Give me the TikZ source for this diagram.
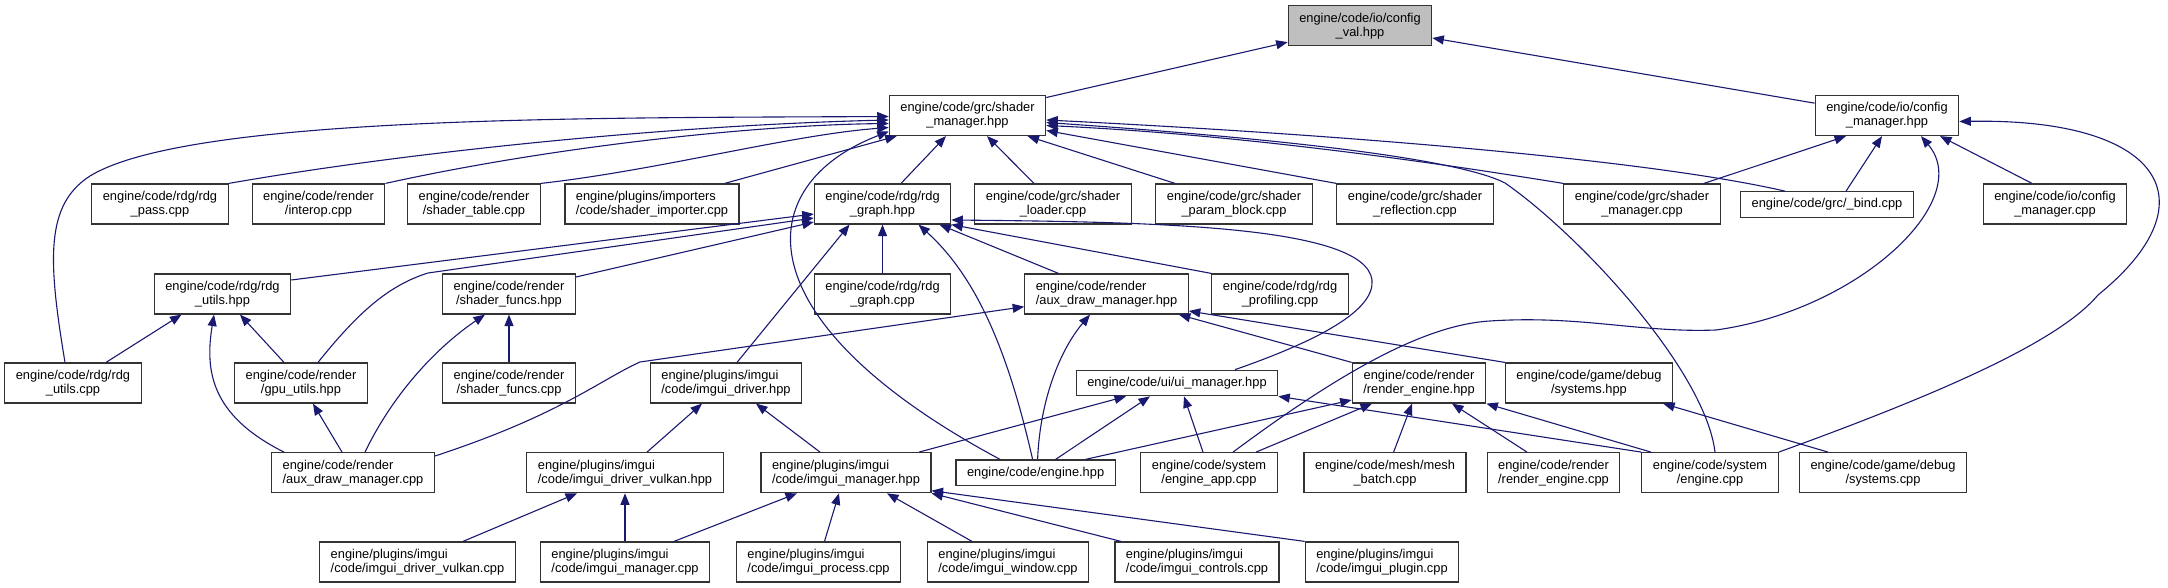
\documentclass[tikz,border=0pt]{standalone}
\usepackage{fontspec}
\setmainfont{Liberation Sans}
\usetikzlibrary{arrows.meta}
\definecolor{edgeblue}{HTML}{191970}
\begin{document}
\begin{tikzpicture}[x=1pt,y=-1pt,>={Triangle[length=11.5pt,width=9pt]},
  file/.style={draw=black!80,line width=1.2pt,fill=white,minimum height=40pt,
    inner xsep=11pt,inner ysep=0pt,align=center,font=\fontsize{12.85}{14}\selectfont},
  lfile/.style={file,align=left},
  flat/.style={file,minimum height=25.5pt},
  dep/.style={->,edgeblue,line width=1.1pt}]
\useasboundingbox (0,0) rectangle (2168,588);

\node[file,fill=black!25] (cval) at (1360,25.7) {engine/code/io/config\\\_val.hpp};

\node[file] (smh) at (967.5,115.5) {engine/code/grc/shader\\\_manager.hpp};
\node[file] (cmh) at (1887,115.5) {engine/code/io/config\\\_manager.hpp};

\node[file] (rpass) at (160,204) {engine/code/rdg/rdg\\\_pass.cpp};
\node[file] (interop) at (318.5,204) {engine/code/render\\/interop.cpp};
\node[file] (stable) at (474,204) {engine/code/render\\/shader\_table.cpp};
\node[lfile] (simp) at (652,204) {engine/plugins/importers\\/code/shader\_importer.cpp};
\node[file] (rgh) at (882.5,204) {engine/code/rdg/rdg\\\_graph.hpp};
\node[file] (sload) at (1053,204) {engine/code/grc/shader\\\_loader.cpp};
\node[file] (spb) at (1234,204) {engine/code/grc/shader\\\_param\_block.cpp};
\node[file] (sref) at (1415,204) {engine/code/grc/shader\\\_reflection.cpp};
\node[file] (smc) at (1642,204) {engine/code/grc/shader\\\_manager.cpp};
\node[flat] (bind) at (1827,204.5) {engine/code/grc/\_bind.cpp};
\node[file] (cmc) at (2055,204) {engine/code/io/config\\\_manager.cpp};

\node[file] (ruh) at (222.5,294) {engine/code/rdg/rdg\\\_utils.hpp};
\node[file] (sfh) at (509,294) {engine/code/render\\/shader\_funcs.hpp};
\node[file] (rgc) at (882.5,294) {engine/code/rdg/rdg\\\_graph.cpp};
\node[lfile] (adh) at (1106.5,294) {engine/code/render\\/aux\_draw\_manager.hpp};
\node[file] (rprof) at (1280,294) {engine/code/rdg/rdg\\\_profiling.cpp};

\node[file] (ruc) at (73,383) {engine/code/rdg/rdg\\\_utils.cpp};
\node[file] (gpu) at (301,383) {engine/code/render\\/gpu\_utils.hpp};
\node[file] (sfc) at (509,383) {engine/code/render\\/shader\_funcs.cpp};
\node[lfile] (idh) at (726,383) {engine/plugins/imgui\\/code/imgui\_driver.hpp};
\node[flat] (uih) at (1177,383) {engine/code/ui/ui\_manager.hpp};
\node[file] (reh) at (1419,383) {engine/code/render\\/render\_engine.hpp};
\node[file] (sysh) at (1589,383) {engine/code/game/debug\\/systems.hpp};

\node[lfile] (adc) at (353,472.7) {engine/code/render\\/aux\_draw\_manager.cpp};
\node[lfile] (idvh) at (625,472.7) {engine/plugins/imgui\\/code/imgui\_driver\_vulkan.hpp};
\node[lfile] (imh) at (846,472.7) {engine/plugins/imgui\\/code/imgui\_manager.hpp};
\node[flat] (eh) at (1035.6,472.7) {engine/code/engine.hpp};
\node[file] (eac) at (1209,472.7) {engine/code/system\\/engine\_app.cpp};
\node[file] (mbc) at (1385,472.7) {engine/code/mesh/mesh\\\_batch.cpp};
\node[file] (rec) at (1553.5,472.7) {engine/code/render\\/render\_engine.cpp};
\node[file] (ec) at (1710,472.7) {engine/code/system\\/engine.cpp};
\node[file] (sysc) at (1883,472.7) {engine/code/game/debug\\/systems.cpp};

\node[lfile] (idvc) at (417.5,562) {engine/plugins/imgui\\/code/imgui\_driver\_vulkan.cpp};
\node[lfile] (imc) at (625,562) {engine/plugins/imgui\\/code/imgui\_manager.cpp};
\node[lfile] (ipc) at (818.5,562) {engine/plugins/imgui\\/code/imgui\_process.cpp};
\node[lfile] (iwc) at (1008,562) {engine/plugins/imgui\\/code/imgui\_window.cpp};
\node[lfile] (icc) at (1197,562) {engine/plugins/imgui\\/code/imgui\_controls.cpp};
\node[lfile] (iplc) at (1382,562) {engine/plugins/imgui\\/code/imgui\_plugin.cpp};

\draw[dep] (smh) -- (cval);
\draw[dep] (cmh) -- (cval);

\draw[dep] ([xshift=-8pt]ruc.north) .. controls (48,260) and (45,205) .. (90,176) .. controls (190,115) and (600,118) .. ([yshift=-1pt]smh.west);
\draw[dep] (rpass.north east) .. controls (420,150) and (680,125) .. ([yshift=-4.5pt]smh.west);
\draw[dep] (interop.north east) .. controls (560,145) and (760,125) .. ([yshift=-8pt]smh.west);
\draw[dep] (stable.north east) .. controls (660,170) and (790,135) .. ([yshift=-12pt]smh.west);
\draw[dep] ([xshift=-15pt]simp.north east) -- ([xshift=8pt]smh.south west);
\draw[dep] ([xshift=-35.6pt]eh.north) .. controls (740,320) and (750,185) .. ([yshift=-16pt]smh.west);
\draw[dep] ([xshift=18.5pt]rgh.north) -- ([xshift=-21.5pt]smh.south);
\draw[dep] ([xshift=-19pt]sload.north) -- ([xshift=19.5pt]smh.south);
\draw[dep] ([xshift=-59pt]spb.north) -- ([xshift=60pt]smh.south);
\draw[dep] (sref.north west) -- ([yshift=-15pt]smh.east);
\draw[dep] (smc.north west) .. controls (1450,165) and (1250,135) .. ([yshift=-10pt]smh.east);
\draw[dep] ([xshift=-42pt]bind.north) .. controls (1650,160) and (1350,135) .. ([yshift=-4.5pt]smh.east);
\draw[dep] ([xshift=5pt]ec.north) .. controls (1705,370) and (1580,235) .. (1505,183) .. controls (1460,160) and (1300,140) .. ([yshift=-7pt]smh.east);

\draw[dep] ([xshift=62pt]smc.north) -- ([xshift=-41pt]cmh.south);
\draw[dep] ([xshift=19pt]bind.north) -- ([xshift=-5pt]cmh.south);
\draw[dep] ([xshift=-23pt]cmc.north) -- ([xshift=53pt]cmh.south);
\draw[dep] ([xshift=24pt]eac.north) .. controls (1330,380) and (1420,325) .. (1490,321) .. controls (1580,315) and (1640,333) .. (1716,330) .. controls (1860,310) and (1975,200) .. ([xshift=34pt]cmh.south);
\draw[dep] (ec.north east) .. controls (1950,390) and (2060,340) .. (2098,295) .. controls (2215,200) and (2160,118) .. ([yshift=-6pt]cmh.east);

\draw[dep] ([yshift=14pt]ruh.east) -- ([yshift=-10pt]rgh.west);
\draw[dep] ([xshift=17pt]gpu.north) .. controls (360,310) and (390,285) .. (428,273) -- ([yshift=-14pt]rgh.west);
\draw[dep] ([yshift=17pt]sfh.east) -- ([yshift=-18pt]rgh.west);
\draw[dep] (rgc) -- (rgh);
\draw[dep] ([xshift=11pt]idh.north) -- ([xshift=-33pt]rgh.south);
\draw[dep] ([xshift=-3pt]eh.north) .. controls (1010,360) and (980,280) .. ([xshift=36pt]rgh.south);
\draw[dep] ([xshift=-48pt]adh.north) -- ([xshift=57pt]rgh.south);
\draw[dep] (rprof.north west) -- (rgh.south east);
\draw[dep] ([xshift=58pt]uih.north) .. controls (1320,340) and (1375,310) .. (1372,280) .. controls (1365,225) and (1150,222) .. ([yshift=-16pt]rgh.east);

\draw[dep] ([xshift=33pt]ruc.north) -- ([xshift=-41pt]ruh.south);
\draw[dep] ([xshift=-69pt]adc.north) .. controls (210,415) and (205,370) .. ([xshift=-8.5pt]ruh.south);
\draw[dep] ([xshift=-17pt]gpu.north) -- ([xshift=17.5pt]ruh.south);

\draw[dep] ([xshift=12pt]adc.north) .. controls (395,390) and (440,345) .. ([xshift=-24pt]sfh.south);
\draw[dep] (sfc) -- (sfh);
\draw[dep] ([xshift=-11pt]adc.north) -- ([xshift=12pt]gpu.south);

\draw[dep] ([yshift=16.7pt]adc.east) .. controls (560,415) and (600,380) .. (640,362) -- ([yshift=-12.7pt]adh.west);
\draw[dep] ([xshift=2pt]eh.north) .. controls (1040,400) and (1060,350) .. ([xshift=-16.5pt]adh.south);
\draw[dep] (reh.north west) -- ([xshift=-10pt]adh.south east);
\draw[dep] (sysh.north west) -- ([yshift=-17pt]adh.east);

\draw[dep] ([xshift=22pt]idvh.north) -- ([xshift=-24pt]idh.south);
\draw[dep] ([xshift=-26pt]imh.north) -- ([xshift=30pt]idh.south);
\draw[dep] ([xshift=45.5pt]idvc.north) -- ([xshift=-48pt]idvh.south);
\draw[dep] (imc) -- (idvh);

\draw[dep] ([xshift=73pt]imh.north) -- ([xshift=-51pt]uih.south);
\draw[dep] ([xshift=20pt]eh.north) -- ([xshift=-27pt]uih.south);
\draw[dep] ([xshift=-6pt]eac.north) -- ([xshift=7pt]uih.south);
\draw[dep] (ec.north west) -- (uih.south east);

\draw[dep] ([xshift=50pt]eh.north) -- ([yshift=-17pt]reh.west);
\draw[dep] ([xshift=47pt]eac.north) -- ([xshift=-47pt]reh.south);
\draw[dep] ([xshift=8.6pt]mbc.north) -- ([xshift=-7pt]reh.south);
\draw[dep] ([xshift=-26.5pt]rec.north) -- ([xshift=33pt]reh.south);
\draw[dep] ([xshift=-59pt]ec.north) -- (reh.south east);
\draw[dep] ([xshift=-55pt]sysc.north) -- ([xshift=-10pt]sysh.south east);

\draw[dep] ([xshift=49pt]imc.north) -- ([xshift=-49pt]imh.south);
\draw[dep] ([xshift=6pt]ipc.north) -- ([xshift=-7pt]imh.south);
\draw[dep] ([xshift=-36pt]iwc.north) -- ([xshift=41pt]imh.south);
\draw[dep] ([xshift=-76pt]icc.north) -- (imh.south east);
\draw[dep] (iplc.north west) -- ([yshift=-18pt]imh.east);
\end{tikzpicture}
\end{document}
